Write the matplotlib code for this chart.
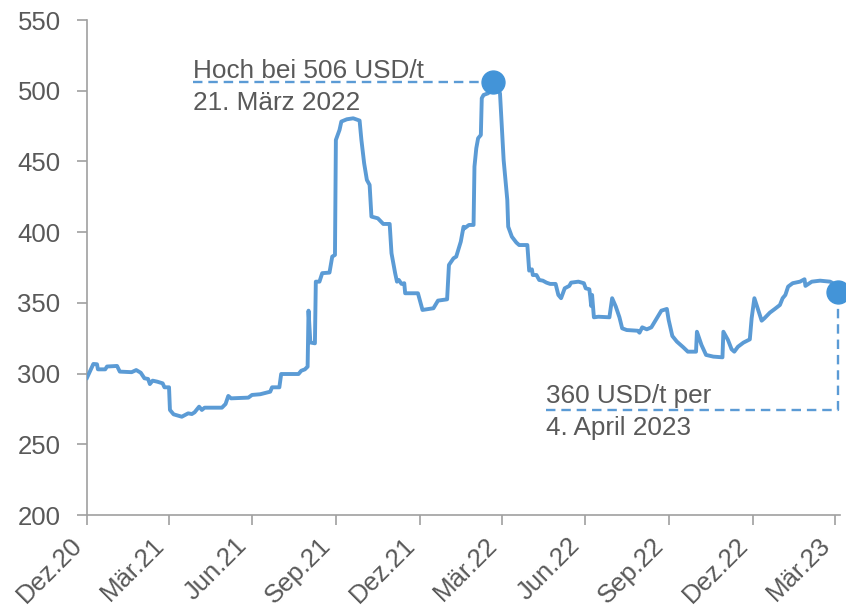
import pandas as pd
import matplotlib
matplotlib.use('Agg')
import matplotlib.pyplot as plt

plt.rcParams['font.family'] = ['Liberation Sans', 'DejaVu Sans']

# Preis in USD/t, Tage nach dem 31.12.2020
start = pd.Timestamp('2020-12-31')
days = [0, 7, 11, 12, 20, 22, 33, 36, 49, 54, 59, 63, 67, 69, 72, 77, 83, 85, 90,
        91, 95, 104, 111, 115, 118, 123, 126, 129, 148, 152, 155, 158, 177, 181,
        190, 197, 201, 203, 211, 213, 232, 235, 239, 242, 243, 245, 250, 251, 255,
        258, 266, 269, 272, 273, 277, 279, 285, 292, 299, 301, 304, 307, 310, 312,
        319, 325, 332, 334, 338, 340, 342, 345, 348, 349, 363, 368, 380, 385, 395,
        397, 402, 405, 410, 413, 414, 419, 424, 425, 427, 429, 432, 433, 435, 440,
        445, 453, 457, 461, 462, 466, 471, 474, 483, 485, 488, 489, 493, 496, 500,
        504, 508, 514, 517, 520, 524, 529, 531, 539, 545, 547, 551, 552, 553, 554,
        556, 561, 573, 576, 580, 584, 587, 592, 604, 606, 609, 614, 619, 625, 630,
        636, 638, 642, 647, 654, 659, 668, 669, 674, 679, 687, 697, 698, 703, 707,
        710, 714, 720, 727, 729, 732, 735, 740, 743, 749, 754, 760, 763, 766, 769,
        774, 782, 787, 788, 795, 804, 815, 818, 824]
price = [297, 306.8, 306.6, 303, 303, 305, 305.4, 301.4, 301, 302.5, 300.6, 296.7,
         296.2, 292.6, 295, 294.3, 293.1, 290.3, 290.3, 274.3, 271.2, 269.5, 271.9,
         271.4, 272.6, 276.6, 274.3, 275.9, 275.9, 278.5, 284.2, 282.5, 283, 284.9,
         285.4, 286.5, 287.2, 290.3, 290.3, 299.7, 299.7, 302, 303, 304.9, 344.5,
         322, 321.4, 365, 365, 371, 371.4, 382.7, 383.9, 465.2, 472.3, 478.2, 479.8,
         480.5, 478.9, 465.2, 448.7, 436.9, 433.4, 411, 409.8, 405.8, 405.8, 385.1,
         371, 365, 366.2, 363.4, 363.9, 356.8, 356.8, 345, 346.2, 351.6, 352.5,
         376.8, 381.5, 382.7, 393.3, 403.8, 402.7, 405.1, 405.1, 446.3, 459.3, 466.4,
         468.7, 494.7, 497, 498.2, 506, 498.2, 451, 422.8, 403.9, 396.8, 392.6, 390.9,
         390.9, 372.8, 373.7, 369.7, 369.7, 366.2, 365.7, 364.3, 363.4, 363.4, 355.6,
         353.3, 360.3, 362, 364.3, 365, 363.9, 360.3, 359.6, 354.4, 347.8, 355.6,
         339.8, 340.2, 339.8, 353.3, 347.4, 339.8, 332, 330.8, 330.3, 328.9, 332.7,
         331.3, 332.7, 339.1, 344.5, 345.7, 337.9, 326.6, 322.6, 318.6, 315.5, 315.5,
         329.6, 320.2, 313.2, 312, 311.5, 329.6, 323.8, 317.2, 315.5, 319, 321.9,
         324.2, 339.1, 353.3, 347.4, 337.4, 339.1, 343.1, 345.5, 348.5, 353.3, 355.6,
         361.5, 363.9, 365, 366.7, 362, 365, 365.7, 365, 364, 358]

tick_labels = ['Dez.20', 'Mär.21', 'Jun.21', 'Sep.21', 'Dez.21',
               'Mär.22', 'Jun.22', 'Sep.22', 'Dez.22', 'Mär.23']
y_ticks = [200, 250, 300, 350, 400, 450, 500, 550]

peak_day, peak_price = 445, 506
last_day, last_price = 824, 358

dates = start + pd.to_timedelta(days, unit='D')
peak_date = start + pd.Timedelta(days=peak_day)
last_date = start + pd.Timedelta(days=last_day)

line_col = '#5B9BD5'
dot_col = '#4394D8'
text_col = '#595959'
axis_col = '#A0A0A0'

fig = plt.figure(figsize=(8.46, 6.1), dpi=100)
ax = fig.add_axes([0.1028, 0.1557, 0.8902, 0.8115])

ax.plot(dates, price, color=line_col, lw=2.8, solid_joinstyle='round', zorder=3)

# Hochpunkt
ax.plot([start + pd.Timedelta(days=116), peak_date], [peak_price, peak_price],
        color=line_col, lw=1.7, ls=(0, (4, 2.5)), zorder=2)
ax.plot(peak_date, peak_price, 'o', ms=16.5, color=dot_col, zorder=4, clip_on=False)
ax.text(start + pd.Timedelta(days=116), 509, 'Hoch bei 506 USD/t', fontsize=18.8,
        color=text_col, va='baseline', ha='left')
ax.text(start + pd.Timedelta(days=116), 500, '21. März 2022', fontsize=18.8,
        color=text_col, va='top', ha='left')

# letzter Wert
ax.plot([start + pd.Timedelta(days=504), last_date, last_date], [274, 274, last_price],
        color=line_col, lw=1.7, ls=(0, (4, 2.5)), zorder=2, clip_on=False)
ax.plot(last_date, last_price, 'o', ms=16.5, color=dot_col, zorder=4, clip_on=False)
ax.text(start + pd.Timedelta(days=504), 279, '360 USD/t per', fontsize=18.8,
        color=text_col, va='baseline', ha='left')
ax.text(start + pd.Timedelta(days=504), 270, '4. April 2023', fontsize=18.8,
        color=text_col, va='top', ha='left')

ax.set_xlim(start, start + pd.Timedelta(days=826))
ax.set_ylim(200, 550)
ax.set_yticks(y_ticks)
ax.set_xticks(pd.date_range(start, periods=len(tick_labels), freq='QE'))
ax.set_xticklabels(tick_labels, rotation=45, ha='right')

for s in ['top', 'right']:
    ax.spines[s].set_visible(False)
for s in ['left', 'bottom']:
    ax.spines[s].set_color(axis_col)
    ax.spines[s].set_linewidth(1.2)
ax.tick_params(axis='y', length=7, width=1.2, color=axis_col, labelcolor=text_col,
               labelsize=18.5, pad=12)
ax.tick_params(axis='x', length=7, width=1.2, color=axis_col, labelcolor=text_col,
               labelsize=18.5, pad=6)

fig.savefig('out.png', dpi=100)
